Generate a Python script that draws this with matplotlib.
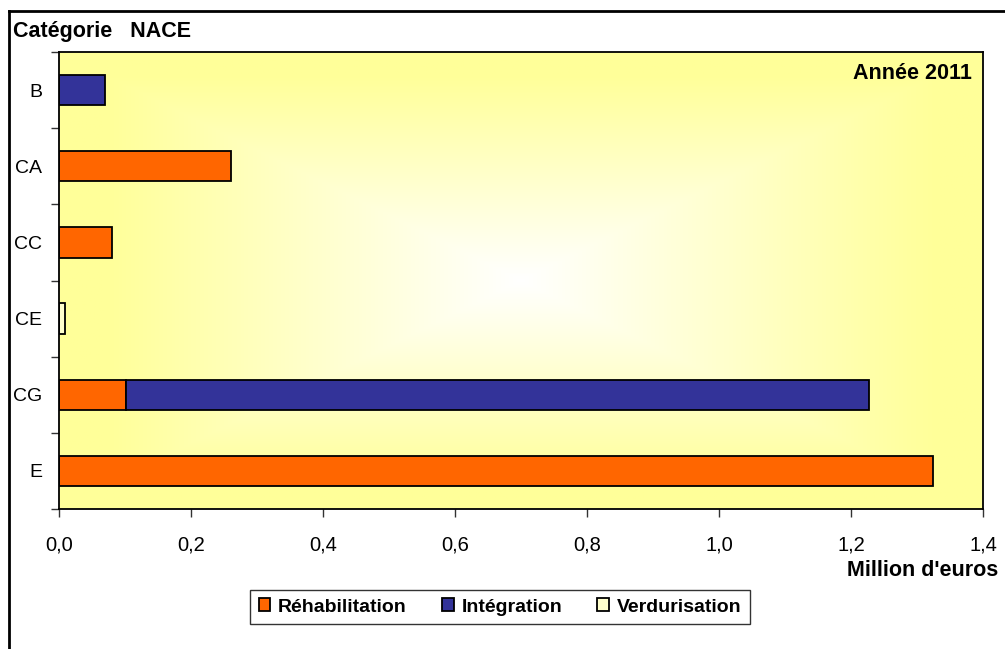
import numpy as np
import matplotlib.pyplot as plt
from matplotlib.lines import Line2D
from matplotlib.patches import Patch

plt.rcParams['font.family'] = ['Liberation Sans', 'DejaVu Sans']

# categories NACE, top to bottom
categories = ['B', 'CA', 'CC', 'CE', 'CG', 'E']
rehabilitation = [0.0, 0.26, 0.081, 0.0, 0.102, 1.324]
integration = [0.069, 0.0, 0.0, 0.0, 1.125, 0.0]
verdurisation = [0.0, 0.0, 0.0, 0.009, 0.0, 0.0]
series_names = ['Réhabilitation', 'Intégration', 'Verdurisation']
colors = ['#FF6600', '#333399', '#FFFFCC']

fig = plt.figure(figsize=(10.05, 6.49), dpi=100)
ax = fig.add_axes([59/1005, 1 - 509/649, 924/1005, 457/649])

# light centre fading to yellow towards the edges
u = np.linspace(-1, 1, 400)
v = np.linspace(-1, 1, 300)
U, V = np.meshgrid(u, v)
t = np.clip(np.maximum(np.abs(U), np.abs(V)) / 0.9, 0, 1)
white = np.array([1.0, 1.0, 1.0])
yellow = np.array([1.0, 1.0, 0.6])
grad = white[None, None, :] * (1 - t[..., None]) + yellow[None, None, :] * t[..., None]
ax.imshow(grad, extent=[0, 1, 0, 1], transform=ax.transAxes, aspect='auto', zorder=0)

y = np.arange(len(categories))
left = np.zeros(len(categories))
for vals, name, col in zip([rehabilitation, integration, verdurisation], series_names, colors):
    vals = np.array(vals)
    mask = vals > 0
    ax.barh(y[mask], vals[mask], left=left[mask], height=0.4, color=col,
            edgecolor='black', linewidth=1.3, zorder=2)
    left += vals

ax.set_xlim(0, 1.4)
ax.set_ylim(len(categories) - 0.5, -0.5)
ax.set_xticks(np.arange(0, 1.41, 0.2))
ax.set_xticklabels([f'{x:.1f}'.replace('.', ',') for x in np.arange(0, 1.41, 0.2)], fontsize=14.5)
ax.set_yticks(y)
ax.set_yticklabels(categories, fontsize=14)
ax.set_yticks(np.arange(-0.5, len(categories)), minor=True)
ax.tick_params(axis='y', which='major', length=0, pad=12)
ax.tick_params(axis='y', which='minor', length=6, width=1, color='#333333', direction='out')
ax.tick_params(axis='x', length=6, width=1, color='#333333', direction='out', pad=13)
for s in ax.spines.values():
    s.set_linewidth(1.3)
    s.set_color('black')

ax.text(0.988, 0.975, 'Année 2011', transform=ax.transAxes, ha='right', va='top',
        fontsize=15.5, fontweight='bold')
fig.text(13/1005, 1 - 32/649, 'Catégorie   NACE', ha='left', va='center',
         fontsize=15.5, fontweight='bold')
fig.text(998/1005, 1 - 570/649, "Million d'euros", ha='right', va='center',
         fontsize=15.5, fontweight='bold')

# outer frame of the chart area
fig.add_artist(Line2D([9/1005, 9/1005], [0, 1 - 11/649], transform=fig.transFigure,
                      color='black', linewidth=2))
fig.add_artist(Line2D([9/1005, 1], [1 - 11/649, 1 - 11/649], transform=fig.transFigure,
                      color='black', linewidth=2))

handles = [Patch(facecolor=c, edgecolor='black', linewidth=1.3, label=n)
           for n, c in zip(series_names, colors)]
leg = fig.legend(handles=handles, loc='center', bbox_to_anchor=(500/1005, 1 - 607/649),
                 ncol=3, frameon=True, fancybox=False, edgecolor='black',
                 prop={'size': 14, 'weight': 'bold'}, handlelength=0.6, handleheight=0.6,
                 handletextpad=0.4, columnspacing=1.8, borderpad=0.45)
leg.get_frame().set_linewidth(1.0)

fig.savefig('out.png', dpi=100)
